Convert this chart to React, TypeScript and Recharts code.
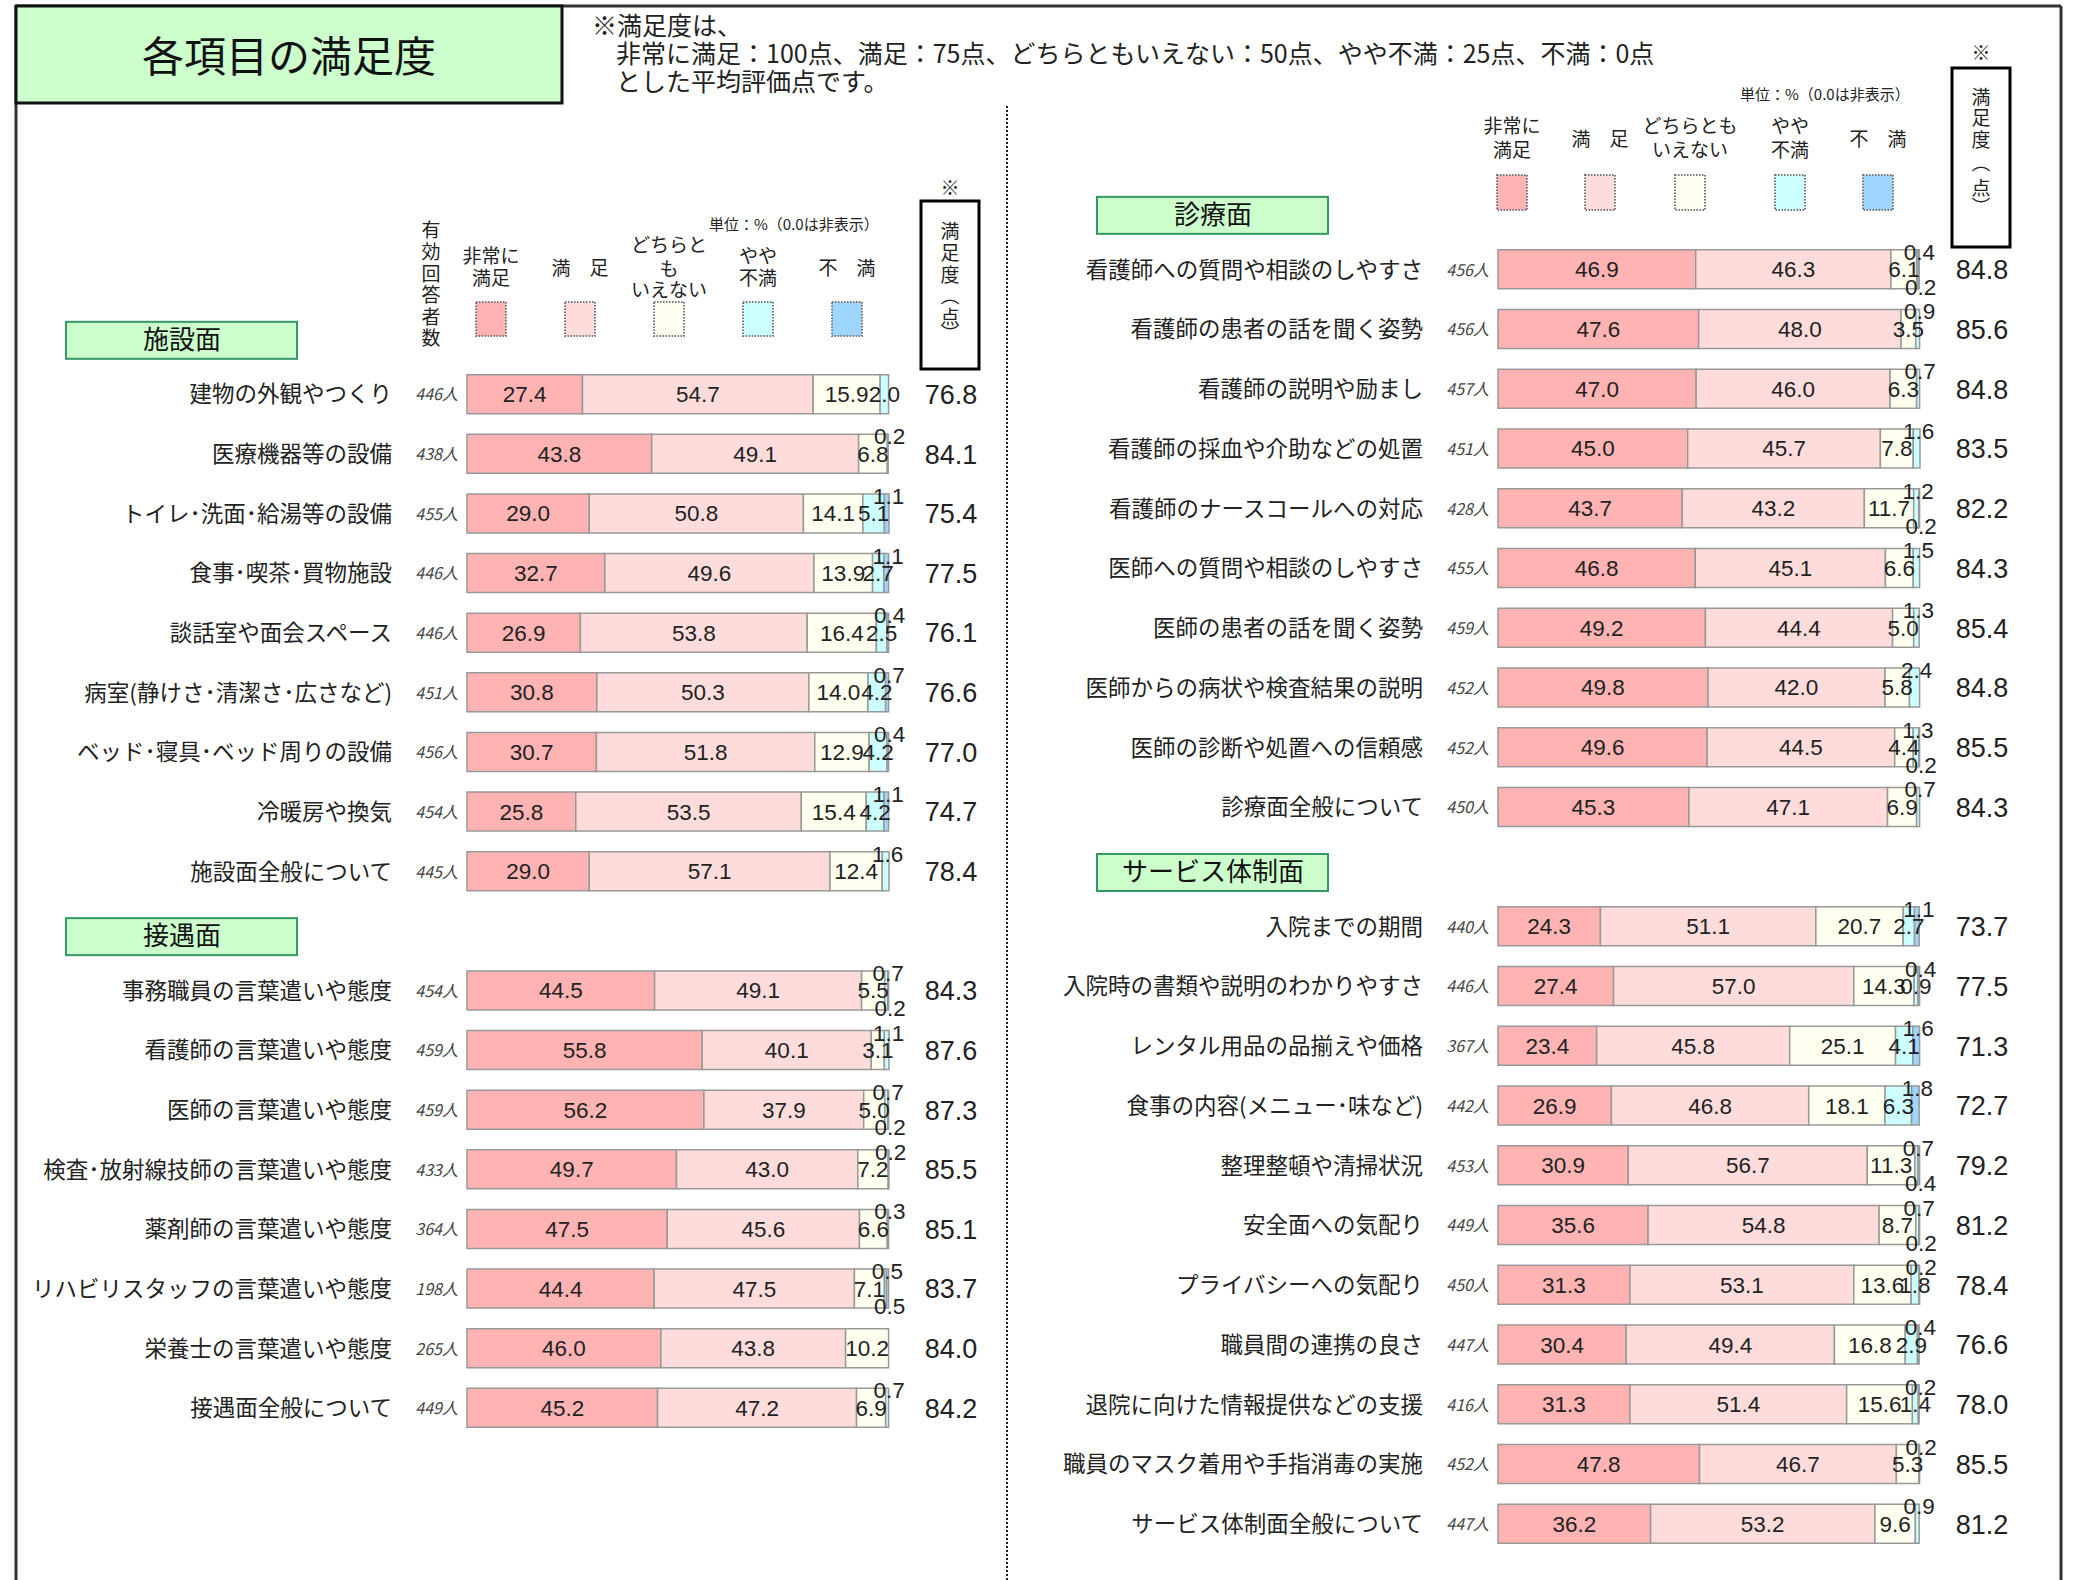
import React from "react";
import { BarChart, Bar, XAxis, YAxis, LabelList } from "recharts";

const JP = '"Noto Sans CJK JP", "Noto Sans", sans-serif';
const NUM = '"Liberation Sans", "Noto Sans", sans-serif';

const SEGMENTS = ["非常に満足", "満足", "どちらともいえない", "やや不満", "不満"];
const SEG_KEYS = ["v0", "v1", "v2", "v3", "v4"];
const COLORS = ["#ffb3b3", "#ffdcdc", "#fffff0", "#ccffff", "#9fd6ff"];

// 施設面
const FACILITY_ITEMS = [
  "建物の外観やつくり",
  "医療機器等の設備",
  "トイレ･洗面･給湯等の設備",
  "食事･喫茶･買物施設",
  "談話室や面会スペース",
  "病室(静けさ･清潔さ･広さなど)",
  "ベッド･寝具･ベッド周りの設備",
  "冷暖房や換気",
  "施設面全般について",
];
const FACILITY_N = [446, 438, 455, 446, 446, 451, 456, 454, 445];
const FACILITY_PCT = [
  [27.4, 54.7, 15.9, 2.0, 0],
  [43.8, 49.1, 6.8, 0.2, 0],
  [29.0, 50.8, 14.1, 5.1, 1.1],
  [32.7, 49.6, 13.9, 2.7, 1.1],
  [26.9, 53.8, 16.4, 2.5, 0.4],
  [30.8, 50.3, 14.0, 4.2, 0.7],
  [30.7, 51.8, 12.9, 4.2, 0.4],
  [25.8, 53.5, 15.4, 4.2, 1.1],
  [29.0, 57.1, 12.4, 1.6, 0],
];
const FACILITY_SCORE = [76.8, 84.1, 75.4, 77.5, 76.1, 76.6, 77.0, 74.7, 78.4];

// 接遇面
const RECEPTION_ITEMS = [
  "事務職員の言葉遣いや態度",
  "看護師の言葉遣いや態度",
  "医師の言葉遣いや態度",
  "検査･放射線技師の言葉遣いや態度",
  "薬剤師の言葉遣いや態度",
  "リハビリスタッフの言葉遣いや態度",
  "栄養士の言葉遣いや態度",
  "接遇面全般について",
];
const RECEPTION_N = [454, 459, 459, 433, 364, 198, 265, 449];
const RECEPTION_PCT = [
  [44.5, 49.1, 5.5, 0.7, 0.2],
  [55.8, 40.1, 3.1, 1.1, 0],
  [56.2, 37.9, 5.0, 0.7, 0.2],
  [49.7, 43.0, 7.2, 0.2, 0],
  [47.5, 45.6, 6.6, 0.3, 0],
  [44.4, 47.5, 7.1, 0.5, 0.5],
  [46.0, 43.8, 10.2, 0, 0],
  [45.2, 47.2, 6.9, 0.7, 0],
];
const RECEPTION_SCORE = [84.3, 87.6, 87.3, 85.5, 85.1, 83.7, 84.0, 84.2];

// 診療面
const MEDICAL_ITEMS = [
  "看護師への質問や相談のしやすさ",
  "看護師の患者の話を聞く姿勢",
  "看護師の説明や励まし",
  "看護師の採血や介助などの処置",
  "看護師のナースコールへの対応",
  "医師への質問や相談のしやすさ",
  "医師の患者の話を聞く姿勢",
  "医師からの病状や検査結果の説明",
  "医師の診断や処置への信頼感",
  "診療面全般について",
];
const MEDICAL_N = [456, 456, 457, 451, 428, 455, 459, 452, 452, 450];
const MEDICAL_PCT = [
  [46.9, 46.3, 6.1, 0.4, 0.2],
  [47.6, 48.0, 3.5, 0.9, 0],
  [47.0, 46.0, 6.3, 0.7, 0],
  [45.0, 45.7, 7.8, 1.6, 0],
  [43.7, 43.2, 11.7, 1.2, 0.2],
  [46.8, 45.1, 6.6, 1.5, 0],
  [49.2, 44.4, 5.0, 1.3, 0],
  [49.8, 42.0, 5.8, 2.4, 0],
  [49.6, 44.5, 4.4, 1.3, 0.2],
  [45.3, 47.1, 6.9, 0.7, 0],
];
const MEDICAL_SCORE = [84.8, 85.6, 84.8, 83.5, 82.2, 84.3, 85.4, 84.8, 85.5, 84.3];

// サービス体制面
const SYSTEM_ITEMS = [
  "入院までの期間",
  "入院時の書類や説明のわかりやすさ",
  "レンタル用品の品揃えや価格",
  "食事の内容(メニュー･味など)",
  "整理整頓や清掃状況",
  "安全面への気配り",
  "プライバシーへの気配り",
  "職員間の連携の良さ",
  "退院に向けた情報提供などの支援",
  "職員のマスク着用や手指消毒の実施",
  "サービス体制面全般について",
];
const SYSTEM_N = [440, 446, 367, 442, 453, 449, 450, 447, 416, 452, 447];
const SYSTEM_PCT = [
  [24.3, 51.1, 20.7, 2.7, 1.1],
  [27.4, 57.0, 14.3, 0.9, 0.4],
  [23.4, 45.8, 25.1, 4.1, 1.6],
  [26.9, 46.8, 18.1, 6.3, 1.8],
  [30.9, 56.7, 11.3, 0.7, 0.4],
  [35.6, 54.8, 8.7, 0.7, 0.2],
  [31.3, 53.1, 13.6, 1.8, 0.2],
  [30.4, 49.4, 16.8, 2.9, 0.4],
  [31.3, 51.4, 15.6, 1.4, 0.2],
  [47.8, 46.7, 5.3, 0.2, 0],
  [36.2, 53.2, 9.6, 0.9, 0],
];
const SYSTEM_SCORE = [73.7, 77.5, 71.3, 72.7, 79.2, 81.2, 78.4, 76.6, 78.0, 85.5, 81.2];

type Row = {
  label: string;
  header?: boolean;
  n?: number;
  score?: number;
  stack?: boolean;
  [k: string]: any;
};

type Section = {
  title: string;
  items: string[];
  n: number[];
  pct: number[][];
  score: number[];
  stack?: boolean;
};

function buildRows(sections: Section[]): Row[] {
  const rows: Row[] = [];
  sections.forEach((s) => {
    rows.push({ label: s.title, header: true });
    s.items.forEach((item, i) => {
      const r: Row = { label: item, n: s.n[i], score: s.score[i], stack: s.stack };
      s.pct[i].forEach((v, j) => (r[SEG_KEYS[j]] = v));
      rows.push(r);
    });
  });
  return rows;
}

const LEFT_ROWS = buildRows([
  { title: "施設面", items: FACILITY_ITEMS, n: FACILITY_N, pct: FACILITY_PCT, score: FACILITY_SCORE },
  { title: "接遇面", items: RECEPTION_ITEMS, n: RECEPTION_N, pct: RECEPTION_PCT, score: RECEPTION_SCORE },
]);
const RIGHT_ROWS = buildRows([
  { title: "診療面", items: MEDICAL_ITEMS, n: MEDICAL_N, pct: MEDICAL_PCT, score: MEDICAL_SCORE, stack: true },
  { title: "サービス体制面", items: SYSTEM_ITEMS, n: SYSTEM_N, pct: SYSTEM_PCT, score: SYSTEM_SCORE },
]);

const CHART_H = 1580;

// where the two small values at the end of a bar go
function smallPlacement(r: Row) {
  const yy = r.v3 ?? 0;
  const fu = r.v4 ?? 0;
  let yyPos = "none";
  let fuPos = "none";
  if (yy > 0) {
    if (r.stack) yyPos = "above";
    else if (fu > 0) yyPos = yy >= 0.8 ? "in" : "above";
    else yyPos = yy >= 2 ? "in" : "above";
  }
  if (fu > 0) fuPos = yyPos === "above" ? "below" : "above";
  return { yyPos, fuPos };
}

const makeValueLabel = (rows: Row[], seg: number, top: number, bottom: number) => (props: any) => {
  const vb = props.viewBox || {};
  const x = Number(props.x ?? vb.x);
  const y = Number(props.y ?? vb.y);
  const w = Number(props.width ?? vb.width);
  const h = Number(props.height ?? vb.height);
  const value = props.value;
  if (value == null || value === 0 || isNaN(x) || isNaN(y)) return null;
  // find the row this bar belongs to from its band on the category axis
  const band = (CHART_H - top - bottom) / rows.length;
  const idx = Math.floor((y + h / 2 - top) / band);
  const r = rows[idx];
  if (!r || r.header) return null;
  let cx = x + w / 2;
  let by = y + h / 2 + 8;
  if (seg >= 3) {
    const p = smallPlacement(r);
    const pos = seg === 3 ? p.yyPos : p.fuPos;
    if (pos === "above") {
      by = y + 10;
      cx += 2;
    } else if (pos === "below") {
      by = y + h + 6;
      cx += 2;
    }
  }
  return (
    <text x={cx} y={by} textAnchor="middle" fontSize={22.5} fontFamily={NUM} fill="#222">
      {Number(value).toFixed(1)}
    </text>
  );
};

const makeLeftTick = (rows: Row[]) => (props: any) => {
  const { x, y } = props;
  const idx = props.payload?.index ?? props.index;
  const r = rows[idx];
  if (!r) return <g />;
  if (r.header) {
    return (
      <g>
        <rect x={x - 401} y={y - 13} width={231} height={37} fill="#ccffcc" stroke="#339966" strokeWidth={2} />
        <text x={x - 285} y={y + 14} textAnchor="middle" fontSize={26} fontFamily={JP} fill="#111">
          {r.label}
        </text>
      </g>
    );
  }
  return (
    <g>
      <text x={x - 75} y={y + 8} textAnchor="end" fontSize={22.5} fontFamily={JP} fill="#222">
        {r.label}
      </text>
      <text x={x - 9} y={y + 6} textAnchor="end" fontSize={16} fontStyle="italic" fontFamily={JP} fill="#444">
        {r.n}人
      </text>
    </g>
  );
};

const makeScoreTick = (rows: Row[]) => (props: any) => {
  const { x, y } = props;
  const idx = props.payload?.index ?? props.index;
  const r = rows[idx];
  if (!r || r.header) return <g />;
  return (
    <text x={x + 62} y={y + 9.5} textAnchor="middle" fontSize={27} fontFamily={NUM} fill="#222">
      {r.score!.toFixed(1)}
    </text>
  );
};

function Panel({ rows, width, axisW, scoreW, top, bottom }: { rows: Row[]; width: number; axisW: number; scoreW: number; top: number; bottom: number }) {
  return (
    <BarChart
      layout="vertical"
      width={width}
      height={CHART_H}
      data={rows}
      margin={{ top, right: 0, bottom, left: 0 }}
      barSize={39}
    >
      <XAxis type="number" domain={[0, 100]} hide />
      <YAxis
        yAxisId="l"
        type="category"
        dataKey="label"
        width={axisW}
        axisLine={false}
        tickLine={false}
        tickSize={0}
        tickMargin={0}
        interval={0}
        tick={makeLeftTick(rows)}
      />
      <YAxis
        yAxisId="r"
        orientation="right"
        type="category"
        dataKey="label"
        width={scoreW}
        axisLine={false}
        tickLine={false}
        tickSize={0}
        tickMargin={0}
        interval={0}
        tick={makeScoreTick(rows)}
      />
      {SEG_KEYS.map((k, i) => (
        <Bar
          key={k}
          yAxisId="l"
          dataKey={k}
          name={SEGMENTS[i]}
          stackId="s"
          fill={COLORS[i]}
          stroke="#999"
          strokeWidth={1.5}
          isAnimationActive={false}
        >
          <LabelList dataKey={k} content={makeValueLabel(rows, i, top, bottom)} />
        </Bar>
      ))}
    </BarChart>
  );
}

function LegendHead({ xs, lines, swatchY, swatchH }: { xs: number[]; lines: { t: string; y: number }[][]; swatchY: number; swatchH: number }) {
  return (
    <g>
      {xs.map((cx, i) => (
        <g key={i}>
          {lines[i].map((l, j) => (
            <text key={j} x={cx} y={l.y} textAnchor="middle" fontSize={19} fontFamily={JP} fill="#222">
              {l.t}
            </text>
          ))}
          <rect x={cx - 15} y={swatchY} width={30} height={swatchH} fill={COLORS[i]} stroke="#777" strokeWidth={2} strokeDasharray="1.5 1.5" />
        </g>
      ))}
    </g>
  );
}

function ScoreBox({ x, y, h, ys, markY }: { x: number; y: number; h: number; ys: number[]; markY: number }) {
  const chars = ["満", "足", "度", "︵", "点", "︶"];
  return (
    <g>
      <text x={x + 29} y={markY + 7} textAnchor="middle" fontSize={19} fontFamily={JP} fill="#222">※</text>
      <rect x={x} y={y} width={58} height={h} fill="#fff" stroke="#000" strokeWidth={3} />
      {chars.map((c, i) => (
        <text key={i} x={x + 29} y={ys[i] + 7} textAnchor="middle" fontSize={19} fontFamily={JP} fill="#222">
          {c}
        </text>
      ))}
    </g>
  );
}

export default function App() {
  const leftLegend = [
    [{ t: "非常に", y: 263 }, { t: "満足", y: 285 }],
    [{ t: "満　足", y: 275 }],
    [{ t: "どちらと", y: 252 }, { t: "も", y: 276 }, { t: "いえない", y: 297 }],
    [{ t: "やや", y: 263 }, { t: "不満", y: 285 }],
    [{ t: "不　満", y: 275 }],
  ];
  const rightLegend = [
    [{ t: "非常に", y: 133 }, { t: "満足", y: 157 }],
    [{ t: "満　足", y: 146 }],
    [{ t: "どちらとも", y: 133 }, { t: "いえない", y: 157 }],
    [{ t: "やや", y: 133 }, { t: "不満", y: 157 }],
    [{ t: "不　満", y: 146 }],
  ];
  const vert = ["有", "効", "回", "答", "者", "数"];
  return (
    <div style={{ position: "absolute", left: 0, top: 0, width: 2078, height: 1580, background: "#fff", overflow: "hidden" }}>
      <svg width={2078} height={1580} style={{ position: "absolute", left: 0, top: 0 }}>
        {/* frame */}
        <line x1={16} y1={6} x2={2061} y2={6} stroke="#333" strokeWidth={3} />
        <line x1={16} y1={6} x2={16} y2={1580} stroke="#333" strokeWidth={3} />
        <line x1={2061} y1={6} x2={2061} y2={1580} stroke="#333" strokeWidth={3} />
        <line x1={1007} y1={106} x2={1007} y2={1580} stroke="#222" strokeWidth={2} strokeDasharray="2 2" />
        {/* title */}
        <rect x={16} y={6} width={546} height={97} fill="#ccffcc" stroke="#111" strokeWidth={3} />
        <text x={289} y={72} textAnchor="middle" fontSize={42} fontFamily={JP} fill="#111">各項目の満足度</text>
        <g fontSize={25} fontFamily={JP} fill="#222">
          <text x={592} y={35}>※満足度は、</text>
          <text x={616} y={63}>非常に満足：100点、満足：75点、どちらともいえない：50点、やや不満：25点、不満：0点</text>
          <text x={616} y={91}>とした平均評価点です。</text>
        </g>
        {/* left header */}
        {vert.map((c, i) => (
          <text key={i} x={431} y={[230, 252, 274, 295, 317, 338][i] + 7} textAnchor="middle" fontSize={19} fontFamily={JP} fill="#222">
            {c}
          </text>
        ))}
        <text x={709} y={230} fontSize={15} fontFamily={JP} fill="#222">単位：%（0.0は非表示）</text>
        <LegendHead xs={[491, 580, 669, 758, 847]} lines={leftLegend} swatchY={302} swatchH={34} />
        <ScoreBox x={921} y={201} h={168} ys={[231, 253, 275, 296, 317, 334]} markY={188} />
        {/* right header */}
        <text x={1740} y={100} fontSize={15} fontFamily={JP} fill="#222">単位：%（0.0は非表示）</text>
        <LegendHead xs={[1512, 1600, 1690, 1790, 1878]} lines={rightLegend} swatchY={175} swatchH={35} />
        <ScoreBox x={1952} y={68} h={179} ys={[97, 118, 140, 163, 188, 207]} markY={53} />
      </svg>
      <div style={{ position: "absolute", left: 0, top: 0 }}>
        <Panel rows={LEFT_ROWS} width={1007} axisW={467} scoreW={118} top={305} bottom={142} />
      </div>
      <div style={{ position: "absolute", left: 1007, top: 0 }}>
        <Panel rows={RIGHT_ROWS} width={1071} axisW={491} scoreW={158} top={180} bottom={26} />
      </div>
    </div>
  );
}
